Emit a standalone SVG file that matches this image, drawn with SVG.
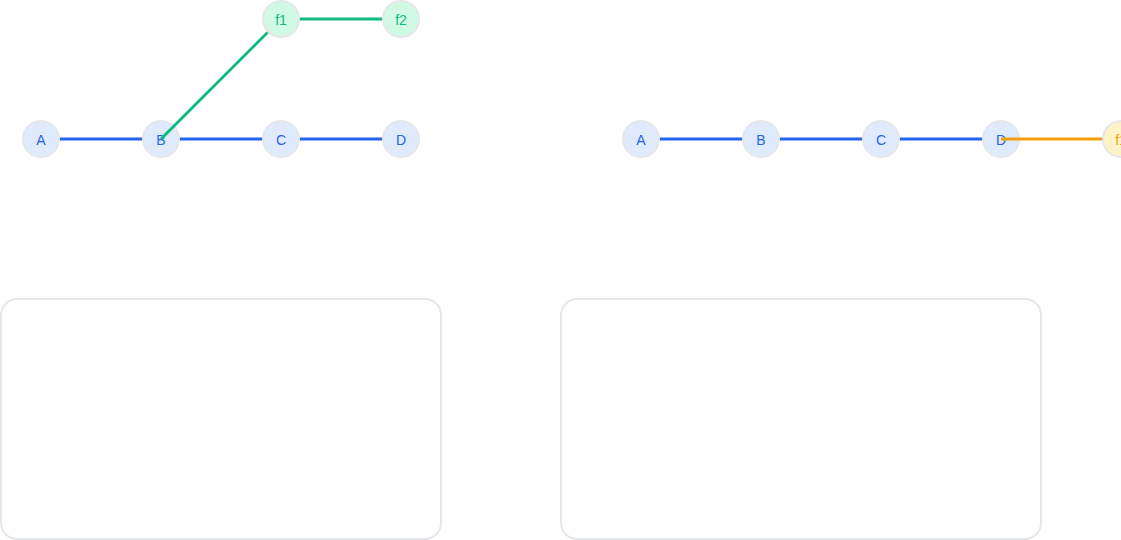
<svg xmlns="http://www.w3.org/2000/svg" width="1121" height="540" viewBox="0 0 1121 540">
<style>
.n circle{stroke:#e5e7eb;stroke-width:2}
.main circle{fill:#dfeafd}
.main text{fill:#2563eb}
.g circle{fill:#d1fae5}
.g text{fill:#10b981}
.o circle{fill:#fef3c7}
.o text{fill:#f59e0b}
text{font-family:"Liberation Sans",Arial,sans-serif;font-size:14px;text-anchor:middle;dominant-baseline:central}
.eb{stroke:#2563eb;stroke-width:3}
.eg{stroke:#10b981;stroke-width:3}
.eo{stroke:#f59e0b;stroke-width:3}
.panel{fill:none;stroke:#e5e7eb;stroke-width:2}
</style>
<rect class="panel" x="1" y="299" width="440" height="240" rx="16"/>
<rect class="panel" x="561" y="299" width="480" height="240" rx="16"/>
<g id="connectors-main">
<line class="eb" x1="41" y1="139" x2="401" y2="139"/>
<line class="eb" x1="641" y1="139" x2="1001" y2="139"/>
</g>
<g id="L-A" class="n main"><circle cx="41" cy="139" r="18"/><text x="41" y="140">A</text></g>
<g id="L-B" class="n main"><circle cx="161" cy="139" r="18"/><text x="161" y="140">B</text></g>
<g id="L-C" class="n main"><circle cx="281" cy="139" r="18"/><text x="281" y="140">C</text></g>
<g id="L-D" class="n main"><circle cx="401" cy="139" r="18"/><text x="401" y="140">D</text></g>
<g id="R-A" class="n main"><circle cx="641" cy="139" r="18"/><text x="641" y="140">A</text></g>
<g id="R-B" class="n main"><circle cx="761" cy="139" r="18"/><text x="761" y="140">B</text></g>
<g id="R-C" class="n main"><circle cx="881" cy="139" r="18"/><text x="881" y="140">C</text></g>
<g id="R-D" class="n main"><circle cx="1001" cy="139" r="18"/><text x="1001" y="140">D</text></g>
<g id="connectors-branch">
<line class="eg" x1="161" y1="139" x2="281" y2="19"/>
<line class="eg" x1="281" y1="19" x2="401" y2="19"/>
<line class="eo" x1="1001" y1="139" x2="1121" y2="139"/>
</g>
<g id="L-f1" class="n g"><circle cx="281" cy="19" r="18"/><text x="281" y="20">f1</text></g>
<g id="L-f2" class="n g"><circle cx="401" cy="19" r="18"/><text x="401" y="20">f2</text></g>
<g id="R-f1" class="n o"><circle cx="1121" cy="139" r="18"/><text x="1121" y="140">f1</text></g>
</svg>
